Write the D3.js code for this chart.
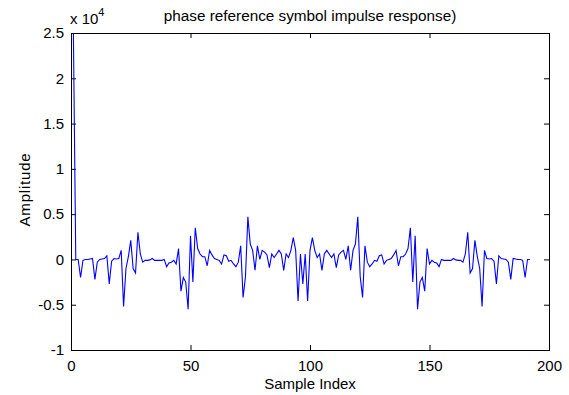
<!DOCTYPE html>
<html>
<head>
<meta charset="utf-8">
<script src="https://cdn.jsdelivr.net/npm/d3@7"></script>
<style>
html,body{margin:0;padding:0;background:#fff;}
svg{display:block;font-family:"Liberation Sans",Arial,Helvetica,sans-serif;}
</style>
</head>
<body>
<svg id="chart" width="569" height="395"></svg>
<script>
const titleText = "phase reference symbol impulse response)";
const xLabel = "Sample Index";
const yLabel = "Amplitude";
const xTicks = [0, 50, 100, 150, 200];
const yTicks = [-1, -0.5, 0, 0.5, 1, 1.5, 2, 2.5];
const yExponent = 4;
// sample amplitudes, samples 1..192
const amplitude = [
25000, 0, 0, -2000, -100, 0, 0, 50, 100, -2200,
-300, 0, 50, 100, 400, -2700, -200, 100, 50, 100,
1000, -5200, -1000, 300, 2100, -1000, -1500, 3000, 600, -300,
-100, -100, -50, 100, -100, -100, -100, -100, 0, -800,
-400, -300, -100, -500, 1200, -3500, -2000, -2500, -5500, 2600,
-2500, 3500, 1200, 600, 300, 300, -700, 1000, 500, 100,
0, -100, -500, 500, 400, -200, -100, -500, -800, -300,
1500, -4200, -1900, 4700, 1700, 1000, -1200, 1500, 0, 1000,
800, 500, -900, 600, 200, 600, 1000, 600, -1200, 600,
200, 1000, 2400, 1000, -4600, 600, -2700, 600, -4600, 1000,
2400, 1000, 200, 600, -1200, 600, 1000, 600, 200, 600,
-900, 500, 800, 1000, 0, 1500, -1200, 1000, 1700, 4700,
-1900, -4200, 1500, -300, -800, -500, -100, -200, 400, 500,
-500, -100, 0, 100, 500, 1000, -700, 300, 300, 600,
1200, 3500, -2500, 2600, -5500, -2500, -2000, -3500, 1200, -500,
-100, -300, -400, -800, 0, -100, -100, -100, -100, 100,
-50, -100, -100, -300, 600, 3000, -1500, -1000, 2100, 300,
-1000, -5200, 1000, 100, 50, 100, -200, -2700, 400, 100,
50, 0, -300, -2200, 100, 50, 0, 0, -100, -2000,
0, 0
];
const sampleIndex = amplitude.map((d, i) => i + 1);

const svg = d3.select("#chart");
const m = {left: 71, right: 549, top: 33, bottom: 350};
const scale = Math.pow(10, yExponent);

const x = d3.scaleLinear().domain([0, 200]).range([m.left, m.right]);
const y = d3.scaleLinear().domain([-1, 2.5]).range([m.bottom, m.top]);

const fs = 15;

// axes (ticks inside)
const gB = svg.append("g").attr("transform", `translate(0,${m.bottom})`)
  .call(d3.axisBottom(x).tickValues(xTicks).tickSizeInner(-5).tickSizeOuter(0).tickPadding(10).tickFormat(d3.format("d")));
const gT = svg.append("g").attr("transform", `translate(0,${m.top})`)
  .call(d3.axisTop(x).tickValues(xTicks).tickSizeInner(-5).tickSizeOuter(0).tickFormat(""));
const gL = svg.append("g").attr("transform", `translate(${m.left},0)`)
  .call(d3.axisLeft(y).tickValues(yTicks).tickSizeInner(-5).tickSizeOuter(0).tickPadding(7).tickFormat(d => String(d)));
const gR = svg.append("g").attr("transform", `translate(${m.right},0)`)
  .call(d3.axisRight(y).tickValues(yTicks).tickSizeInner(-5).tickSizeOuter(0).tickFormat(""));

[gB, gT, gL, gR].forEach(g => {
  g.select(".domain").remove();
  g.selectAll("line").attr("stroke", "#000").attr("stroke-width", 1);
  g.selectAll("text").attr("font-size", fs).attr("fill", "#000")
   .attr("font-family", "'Liberation Sans',Arial,sans-serif");
});

// data line
const line = d3.line().x((d, i) => x(sampleIndex[i])).y(d => y(d / scale));
svg.append("path").datum(amplitude)
  .attr("d", line).attr("fill", "none").attr("stroke", "#0000ff").attr("stroke-width", 1.1);

// box
svg.append("rect").attr("x", m.left + 0.5).attr("y", m.top + 0.5)
  .attr("width", m.right - m.left).attr("height", m.bottom - m.top)
  .attr("fill", "none").attr("stroke", "#000").attr("stroke-width", 1);

// title
svg.append("text").attr("x", (m.left + m.right) / 2).attr("y", 21)
  .attr("text-anchor", "middle").attr("font-size", 15.3).text(titleText);

// exponent label
const ex = svg.append("text").attr("x", 70).attr("y", 24).attr("font-size", fs);
ex.append("tspan").text("x 10");
ex.append("tspan").attr("dy", -8).attr("font-size", 11).text(String(yExponent));

// axis labels
svg.append("text").attr("x", (m.left + m.right) / 2).attr("y", 389)
  .attr("text-anchor", "middle").attr("font-size", fs).text(xLabel);
svg.append("text").attr("transform", `translate(30,${(m.top + m.bottom) / 2 - 2}) rotate(-90)`)
  .attr("text-anchor", "middle").attr("font-size", fs).attr("letter-spacing", 0.8).text(yLabel);
</script>
</body>
</html>
